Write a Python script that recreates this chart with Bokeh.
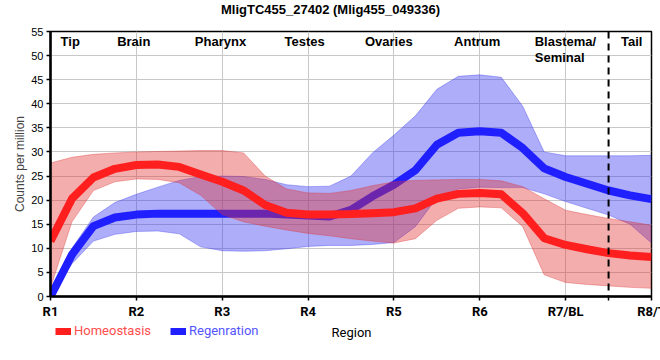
from bokeh.plotting import figure
from bokeh.layouts import column
from bokeh.models import (Range1d, FixedTicker, Span, Legend, LegendItem,
                          ColumnDataSource, Label)
from bokeh.core.properties import value
from bokeh.embed import file_html
from bokeh.resources import INLINE

# ---------------- data ----------------
region_pos = [0, 1, 2, 3, 4, 5, 6, 7]
region_ticks = ["R1", "R2", "R3", "R4", "R5", "R6", "R7/BL", "R8/T"]
tail_boundary = 6.5

# sample positions along the body axis (region units)
xs = [0, 0.25, 0.5, 0.75, 1, 1.25, 1.5, 1.75, 2, 2.25, 2.5, 2.75, 3, 3.25, 3.5,
      3.75, 4, 4.25, 4.5, 4.75, 5, 5.25, 5.5, 5.75, 6, 6.25, 6.5, 6.75, 7]

homeo_mean = [11.5, 20.3, 24.7, 26.5, 27.3, 27.4, 26.9, 25.3, 23.8, 22.0, 19.0, 17.4, 17.0, 17.0, 17.1,
              17.3, 17.5, 18.3, 20.3, 21.3, 21.5, 21.2, 17.3, 12.1, 10.7, 9.8, 9.0, 8.5, 8.2]
homeo_upper = [27.7, 28.9, 29.5, 29.8, 30.0, 30.1, 30.2, 30.3, 30.3, 29.8, 25.0, 22.3, 21.5, 21.4, 22.0,
               23.0, 23.8, 24.1, 24.2, 24.3, 24.3, 24.0, 22.8, 20.3, 17.9, 17.0, 16.2, 15.5, 14.8]
homeo_lower = [1.8, 15.5, 22.0, 23.8, 24.4, 24.3, 23.6, 21.0, 17.0, 15.5, 14.6, 13.8, 13.1, 12.6, 12.0,
               11.5, 11.1, 12.0, 15.8, 18.3, 18.6, 18.4, 14.5, 4.5, 2.9, 2.5, 2.2, 1.9, 1.7]

regen_mean = [0.0, 8.7, 14.6, 16.4, 17.0, 17.2, 17.2, 17.2, 17.2, 17.2, 17.2, 17.0, 16.8, 16.6, 18.0,
              20.8, 23.2, 26.2, 31.5, 34.0, 34.3, 34.0, 30.8, 26.6, 24.8, 23.4, 22.0, 21.0, 20.2]
regen_upper = [0.3, 10.0, 16.5, 19.5, 21.2, 22.7, 24.1, 24.9, 25.0, 24.9, 24.3, 23.2, 22.8, 22.9, 25.0,
               29.8, 33.5, 37.5, 43.0, 45.7, 46.0, 45.5, 39.5, 30.0, 29.2, 29.2, 29.2, 29.2, 29.3]
regen_lower = [0.0, 6.8, 11.5, 12.9, 13.5, 13.6, 13.0, 10.3, 9.5, 9.4, 9.5, 9.9, 10.4, 10.6, 10.6,
               10.8, 11.2, 14.5, 20.5, 22.3, 22.7, 22.6, 22.6, 21.3, 19.7, 18.3, 16.9, 15.0, 11.1]

top_labels = ["Tip", "Brain", "Pharynx", "Testes", "Ovaries", "Antrum", "Tail"]
top_label_x = [0.23, 0.97, 1.98, 2.96, 3.94, 4.97, 6.77]
blastema_lines = ["Blastema/", "Seminal"]
blastema_x = [5.64, 5.64]
top_row_y = [52.95, 49.6]

y_ticks = list(range(0, 56, 5))

chart_title = "MligTC455_27402 (Mlig455_049336)"

FONT = "Liberation Sans"
FONT2 = "Roboto"
RED_LINE = "#ff1f1f"
BLUE_LINE = "#1f1fff"
RED_FILL = "#e03232"
BLUE_FILL = "#3232f0"


def strip_figure(h):
    f = figure(width=660, height=h, x_range=Range1d(0, 1), y_range=Range1d(0, 1),
               output_backend="svg", toolbar_location=None,
               x_axis_type=None, y_axis_type=None,
               min_border_left=0, min_border_right=0, min_border_top=0, min_border_bottom=0)
    f.grid.visible = False
    f.outline_line_color = None
    return f


# ---------------- title row (frame aligned with the main frame at x=50) ----------------
p0 = strip_figure(18)
p0.add_layout(Label(x=280, y=9, x_units="screen", y_units="screen", text=chart_title,
                    text_font=FONT, text_font_size="13px", text_font_style="bold",
                    text_align="center", text_baseline="middle", text_color="black"))

# ---------------- main chart ----------------
p = figure(width=660, height=303, x_range=Range1d(0, 7), y_range=Range1d(0, 55),
           output_backend="svg", toolbar_location=None,
           min_border_left=50, min_border_right=9, min_border_top=13, min_border_bottom=22)

src = ColumnDataSource(dict(x=xs, hm=homeo_mean, hu=homeo_upper, hl=homeo_lower,
                            rm=regen_mean, ru=regen_upper, rl=regen_lower))

# regeneration band + line
p.varea(x="x", y1="rl", y2="ru", source=src, fill_color=BLUE_FILL, fill_alpha=0.4)
p.line(x="x", y="ru", source=src, line_color=BLUE_FILL, line_alpha=0.35, line_width=1)
p.line(x="x", y="rl", source=src, line_color=BLUE_FILL, line_alpha=0.35, line_width=1)
p.line(x="x", y="rm", source=src, line_color=BLUE_LINE, line_width=8, line_join="round")

# homeostasis band + line
p.varea(x="x", y1="hl", y2="hu", source=src, fill_color=RED_FILL, fill_alpha=0.4)
p.line(x="x", y="hu", source=src, line_color=RED_FILL, line_alpha=0.35, line_width=1)
p.line(x="x", y="hl", source=src, line_color=RED_FILL, line_alpha=0.35, line_width=1)
p.line(x="x", y="hm", source=src, line_color=RED_LINE, line_width=8, line_join="round")

# tail boundary
p.add_layout(Span(location=tail_boundary, dimension="height", line_color="black",
                  line_width=2, line_dash="7 5"))

# region names on top
p.text(x=top_label_x, y=[top_row_y[0]] * len(top_labels), text=top_labels,
       text_font=value(FONT), text_font_size="13px", text_font_style="bold",
       text_align="center", text_baseline="middle", text_color="black")
p.text(x=blastema_x, y=top_row_y, text=blastema_lines,
       text_font=value(FONT), text_font_size="13px", text_font_style="bold",
       text_align="left", text_baseline="middle", text_color="black")

# axes
p.xaxis.ticker = FixedTicker(ticks=region_pos + [tail_boundary])
p.xaxis.major_label_overrides = {**{pos: lab for pos, lab in zip(region_pos, region_ticks)},
                                 tail_boundary: ""}
p.xaxis.major_label_text_font = FONT2
p.xaxis.major_label_text_font_size = "13px"
p.xaxis.major_label_text_font_style = "bold"
p.xaxis.major_label_text_color = "black"
p.xaxis.major_label_standoff = 3

p.yaxis.ticker = FixedTicker(ticks=y_ticks)
p.yaxis.major_label_text_font = FONT
p.yaxis.major_label_text_font_size = "11px"
p.yaxis.major_label_text_color = "black"
p.yaxis.major_label_standoff = 3
p.yaxis.axis_label = "Counts per million"
p.yaxis.axis_label_text_font = FONT
p.yaxis.axis_label_text_font_size = "12px"
p.yaxis.axis_label_text_font_style = "normal"
p.yaxis.axis_label_standoff = 1

for ax in (p.xaxis, p.yaxis):
    ax.axis_line_color = "black"
    ax.axis_line_width = 2.5
    ax.major_tick_line_color = "black"
    ax.major_tick_line_width = 1.5
    ax.major_tick_out = 4
    ax.major_tick_in = 0
    ax.minor_tick_line_color = None

p.xgrid.ticker = FixedTicker(ticks=region_pos)
p.ygrid.ticker = FixedTicker(ticks=y_ticks)
p.grid.grid_line_color = "#c8c8c8"
p.grid.grid_line_width = 1

p.outline_line_color = "black"
p.outline_line_width = 1.5

# ---------------- legend row with the x-axis title ----------------
p2 = strip_figure(39)
nan = float("nan")
red_key = p2.line(x=[nan], y=[nan], line_color=RED_LINE, line_width=7)
blue_key = p2.line(x=[nan], y=[nan], line_color=BLUE_LINE, line_width=7)

common = dict(orientation="horizontal", padding=0, margin=0, border_line_color=None,
              background_fill_alpha=0, label_text_font=FONT2, label_text_font_size="13px",
              glyph_width=16, glyph_height=12, label_standoff=3)
leg_h = Legend(items=[LegendItem(label="Homeostasis", renderers=[red_key])],
               location=(5, 22), label_text_color="#ff4d4d", **common)
leg_r = Legend(items=[LegendItem(label="Regenration", renderers=[blue_key])],
               location=(120, 22), label_text_color="#5555ff", **common)
p2.add_layout(leg_h)
p2.add_layout(leg_r)

p2.add_layout(Label(x=301, y=28, x_units="screen", y_units="screen", text="Region",
                    text_font=FONT2, text_font_size="13px", text_align="center",
                    text_baseline="middle", text_color="black"))

layout = column(p0, p, p2, spacing=0)
open("out.html", "w").write(file_html(layout, INLINE))
